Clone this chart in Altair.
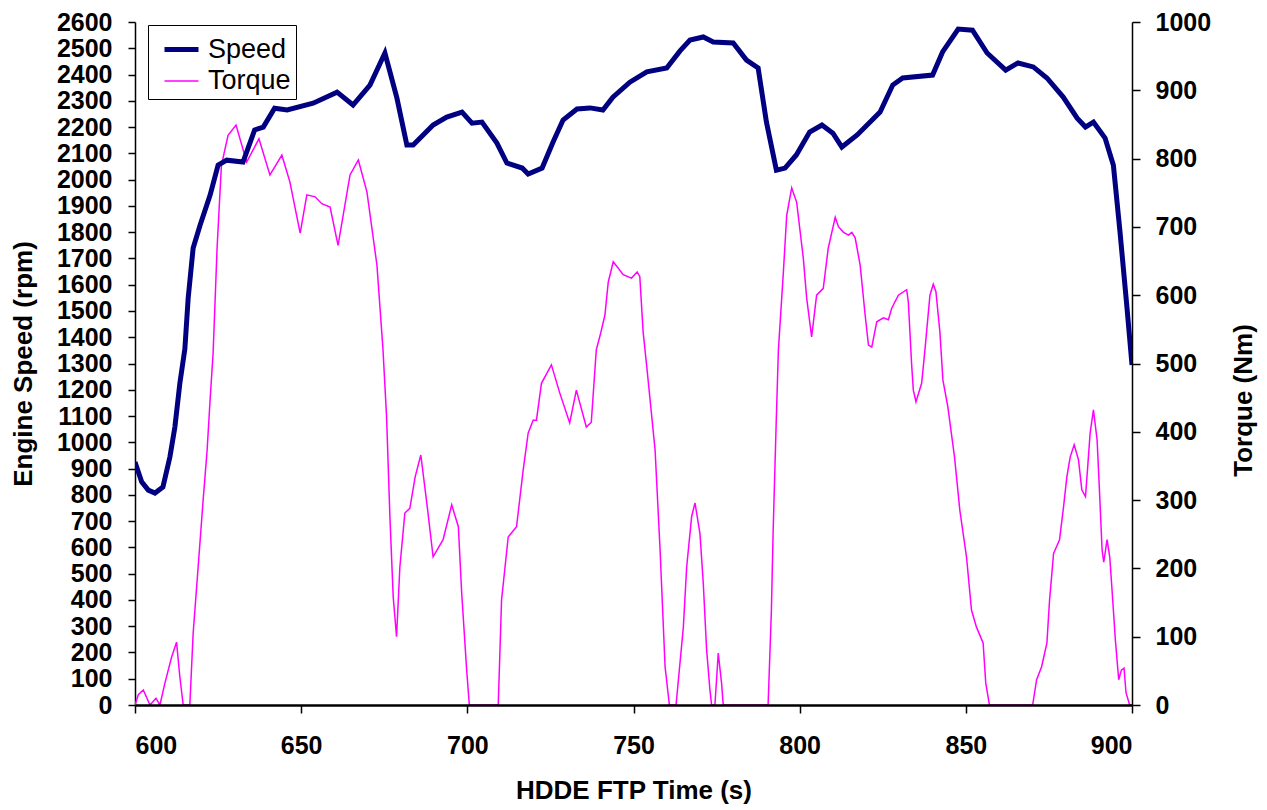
import altair as alt
import pandas as pd

speed_t = [600, 602, 604, 606, 608.4, 610.5, 612, 613.5, 615, 616, 617.5, 619.6, 622.6, 625, 627.6,
           632.5, 636, 638.6, 642, 645.8, 653.6, 660.8, 665.6, 670.7, 675.2, 678.8, 681.8, 683.7,
           689.7, 693.8, 698.4, 701.4, 704.4, 708.9, 711.9, 716.5, 718.3, 722.5, 725.8, 728.8, 733,
           736.9, 740.8, 743.8, 748.9, 754, 760, 764, 767, 771, 774, 780, 784, 787.5, 790, 793,
           795.6, 799, 803, 806.7, 810, 812.7, 817.3, 824.2, 828, 831, 840, 843, 847.7, 852, 856.4,
           862, 865.7, 870.3, 874.4, 879.3, 883.5, 886, 888.4, 891.9, 894.4, 896.4, 898.5, 900]
speed_v = [925, 850, 818, 807, 830, 944, 1058, 1225, 1355, 1549, 1740, 1827, 1941, 2055, 2074,
           2067, 2189, 2200, 2272, 2265, 2291, 2333, 2284, 2360, 2482, 2311, 2132, 2132,
           2208, 2238, 2257, 2215, 2219, 2139, 2063, 2044, 2021, 2044, 2143, 2227, 2269,
           2273, 2265, 2314, 2371, 2410, 2425, 2490, 2531, 2543, 2524, 2520, 2455, 2425, 2219, 2036,
           2044, 2094, 2181, 2208, 2177, 2124, 2170, 2257, 2360, 2387, 2398, 2486, 2573, 2569, 2482,
           2417, 2444, 2429, 2387, 2314, 2234, 2200, 2219, 2158, 2055, 1800, 1511, 1294]

torque_t = [600, 601, 602.5, 604.5, 606.3, 607.5, 609, 611, 612.5, 613.5, 614.5, 616.5, 617.5, 619,
            620.5, 621.7, 622.6, 623.5, 624.7, 626, 628, 630.4, 633.6, 637.3, 640.6, 644.2, 646.6,
            649.7, 651.7, 654.2, 656.2, 658.7, 661.1, 664.7, 667.2, 669.8, 672.8, 674.6, 675.7,
            676.7, 677.7, 678.7, 679.7, 681.2, 682.7, 684.3, 686, 687.8, 689.7, 692.7, 695.3, 697.3,
            698.3, 699.8, 700.6, 709.3, 710.3, 712.3, 714.8, 716.8, 718.3, 719.8, 720.8, 722.3,
            725.3, 727.8, 730.8, 732.8, 735.8, 737.3, 738.8, 740, 741.4, 742.4, 743.9, 746.9, 749.4,
            751.1, 751.9, 752.9, 754, 756.5, 758, 759.5, 760.8, 762.8, 765, 766, 767.5, 768.5, 770,
            771, 772, 773, 773.5, 774.5, 775.5, 776.5, 777, 790.5, 791.5, 792, 792.9, 793.6, 795.1,
            796.1, 797.6, 799.1, 801.1, 802.1, 803.6, 805.1, 807.1, 808.6, 810.7, 811.7, 813.2,
            814.7, 815.7, 816.7, 818.2, 819.7, 820.7, 821.7, 823.2, 825.2, 826.7, 827.7, 829.7,
            832.2, 832.7, 833.7, 834.2, 835, 836.7, 837.7, 839.2, 840.2, 841, 842.2, 843.1, 844.6,
            846.6, 848.2, 850.2, 851.7, 853.2, 855.2, 856, 857.1, 870.1, 871.3, 872.8, 874.4, 875.2,
            876.4, 878.2, 879.4, 880.4, 881.4, 882.6, 883.9, 884.9, 886, 886.6, 887.4, 888.4, 889.5,
            890.2, 891, 891.5, 892.5, 893.3, 894, 895, 896, 896.8, 897.6, 898.2, 899.3, 900]
torque_v = [0, 15, 22, 0, 10, 0, 32, 70, 92, 41, 0, 0, 105, 202,
            300, 373, 447, 515, 669, 790, 834, 849, 795, 829, 776, 805, 766,
            691, 747, 744, 734, 729, 673, 776, 798, 751, 644, 522, 422,
            276, 158, 100, 202, 281, 288, 334, 366, 296, 217, 242, 293, 261,
            164, 51, 0, 0, 154, 246, 261, 344, 398, 417, 417, 471,
            498, 457, 413, 461, 407, 414, 520, 542, 571, 619, 649, 630, 625,
            634, 627, 546, 495, 373, 227, 56, 0, 0, 114, 202, 276, 296, 251,
            178, 81, 22, 0, 0, 76, 32, 0, 0, 139, 251, 407, 520, 634,
            717, 757, 736, 654, 596, 539, 600, 610, 669, 714, 700, 692,
            688, 692, 684, 644, 571, 527, 524, 561, 567, 564, 581, 600,
            608, 590, 498, 461, 444, 471, 520, 600, 616, 605, 546, 476, 436,
            363, 285, 217, 139, 114, 91, 32, 0, 0, 37, 56, 91, 154,
            222, 242, 290, 334, 363, 381, 359, 315, 305, 344, 398, 432, 388,
            315, 227, 209, 242, 217, 168, 95, 37, 51, 54, 18, 0, 0]

series_names = ["Speed", "Torque"]
series_colors = ["#000080", "#FF00FF"]
series_widths = [5, 1.5]
x_ticks = [600, 650, 700, 750, 800, 850, 900]
speed_ticks = list(range(0, 2601, 100))
torque_ticks = list(range(0, 1001, 100))

speed_df = pd.DataFrame({"time": speed_t, "value": speed_v, "series": "Speed"})
torque_df = pd.DataFrame({"time": torque_t, "value": torque_v, "series": "Torque"})

FONT = "Liberation Sans"
W, H = 997, 683

legend = alt.Legend(
    title=None, orient="none", legendX=13, legendY=3,
    strokeColor="black", fillColor="white", padding=5,
    symbolType="stroke", symbolSize=1156, symbolOffset=9, labelOffset=7,
    labelFont=FONT, labelFontSize=27, labelColor="black", rowPadding=0,
)

x_enc = alt.X(
    "time:Q",
    scale=alt.Scale(domain=[600, 900], nice=False, zero=False),
    axis=alt.Axis(
        values=x_ticks, title="HDDE FTP Time (s)", grid=False, format="d",
        tickSize=8, labelPadding=20, titleY=93, titleBaseline="alphabetic", zindex=1,
        domainWidth=2.5,
    ),
)
color_enc = alt.Color("series:N", scale=alt.Scale(domain=series_names, range=series_colors), legend=legend)
sw_enc = alt.StrokeWidth("series:N", scale=alt.Scale(domain=series_names, range=series_widths), legend=legend)

speed = alt.Chart(speed_df).mark_line(clip=True).encode(
    x=x_enc,
    y=alt.Y(
        "value:Q",
        scale=alt.Scale(domain=[0, 2600], nice=False),
        axis=alt.Axis(
            values=speed_ticks, title="Engine Speed (rpm)", orient="left", grid=False, format="d",
            tickSize=7, labelPadding=16, labelOverlap=False, labelFlush=False,
            titleAngle=270, titleX=-112, titleY=341.5, titleAlign="center", titleBaseline="middle",
        ),
    ),
    color=color_enc,
    strokeWidth=sw_enc,
)

torque = alt.Chart(torque_df).mark_line(clip=True).encode(
    x=x_enc,
    y=alt.Y(
        "value:Q",
        scale=alt.Scale(domain=[0, 1000], nice=False),
        axis=alt.Axis(
            values=torque_ticks, title="Torque (Nm)", orient="right", grid=False, format="d",
            tickSize=8, labelPadding=15, labelOverlap=False, labelFlush=False,
            titleAngle=270, titleX=111, titleY=378, titleAlign="center", titleBaseline="middle",
        ),
    ),
    color=color_enc,
    strokeWidth=sw_enc,
)

chart = alt.layer(torque, speed).resolve_scale(y="independent").properties(
    width=W, height=H,
    autosize=alt.AutoSizeParams(type="none"),
    padding={"left": 135, "top": 22, "right": 135, "bottom": 105},
    background="white",
).configure_view(strokeWidth=0).configure_axis(
    labelFont=FONT, labelFontSize=25, labelFontWeight="bold", labelColor="black",
    titleFont=FONT, titleFontSize=26, titleFontWeight="bold", titleColor="black",
    domainColor="black", domainWidth=1.5, tickColor="black", tickWidth=1.5,
)

chart.save("out.html", embed_options={"renderer": "svg", "actions": False})
